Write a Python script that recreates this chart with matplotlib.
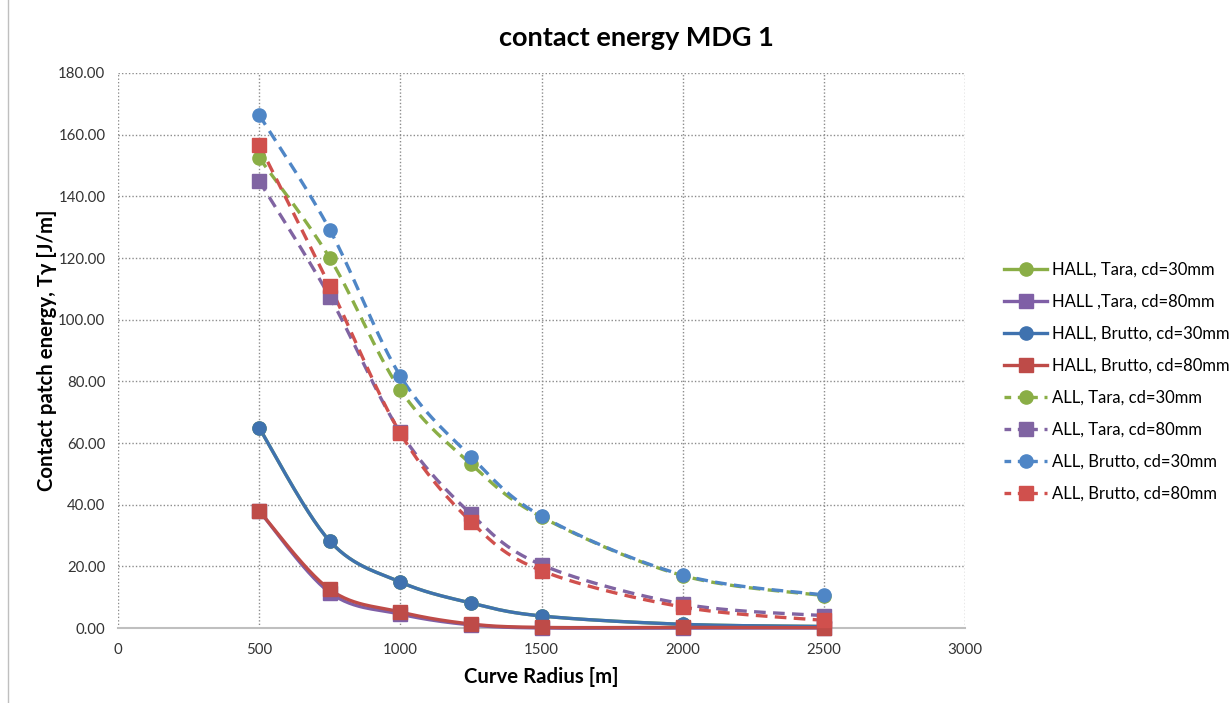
import numpy as np
import matplotlib
matplotlib.use("Agg")
import matplotlib.pyplot as plt
from matplotlib.lines import Line2D

plt.rcParams['font.family'] = ['Lato', 'DejaVu Sans']

radius = [500, 750, 1000, 1250, 1500, 2000, 2500]

hall_tara_30 = [64.9, 28.2, 14.9, 8.1, 3.9, 1.2, 0.5]
hall_tara_80 = [38.0, 11.5, 4.5, 1.0, 0.0, 0.0, 0.0]
hall_brutto_30 = [64.9, 28.2, 14.9, 8.1, 3.9, 1.2, 0.5]
hall_brutto_80 = [38.0, 12.5, 5.2, 1.3, 0.2, 0.2, 0.1]
all_tara_30 = [152.5, 120.0, 77.2, 53.2, 36.0, 17.0, 10.5]
all_tara_80 = [145.0, 107.4, 63.5, 37.0, 20.5, 7.8, 4.0]
all_brutto_30 = [166.4, 129.2, 81.7, 55.6, 36.3, 17.2, 10.7]
all_brutto_80 = [156.7, 110.9, 63.2, 34.5, 18.6, 6.8, 2.5]

labels = ["HALL, Tara, cd=30mm", "HALL ,Tara, cd=80mm", "HALL, Brutto, cd=30mm",
          "HALL, Brutto, cd=80mm", "ALL, Tara, cd=30mm", "ALL, Tara, cd=80mm",
          "ALL, Brutto, cd=30mm", "ALL, Brutto, cd=80mm"]
series = [hall_tara_30, hall_tara_80, hall_brutto_30, hall_brutto_80,
          all_tara_30, all_tara_80, all_brutto_30, all_brutto_80]
colors = ["#8AAE46", "#7F5FA6", "#3F72AF", "#BE4B48",
          "#8AAE46", "#8064A2", "#4F86C6", "#D0504D"]
markers = ["o", "s", "o", "s", "o", "s", "o", "s"]
styles = ["-", "-", "-", "-", "--", "--", "--", "--"]

xmax, ymax = 3000, 180
W, H = 847.0, 555.0  # plot area in pixels


def smooth(xs, ys, n=30):
    px = np.array(xs, float) * W / xmax
    py = np.array(ys, float) * H / ymax
    P = np.column_stack([px, py])
    out = []
    for i in range(len(P) - 1):
        p0 = P[i - 1] if i > 0 else P[i]
        p1 = P[i]
        p2 = P[i + 1]
        p3 = P[i + 2] if i + 2 < len(P) else P[i + 1]
        c1 = p1 + (p2 - p0) / 6.0
        c2 = p2 - (p3 - p1) / 6.0
        t = np.linspace(0, 1, n)[:, None]
        seg = ((1 - t) ** 3) * p1 + 3 * ((1 - t) ** 2) * t * c1 + 3 * (1 - t) * t ** 2 * c2 + t ** 3 * p2
        out.append(seg if i == 0 else seg[1:])
    C = np.vstack(out)
    return C[:, 0] * xmax / W, C[:, 1] * ymax / H


fig = plt.figure(figsize=(12.29, 7.03), dpi=100)
ax = fig.add_axes([118 / 1229, 1 - 628 / 703, (965 - 118) / 1229, (628 - 73) / 703])

handles = []
for ys, c, m, ls, lab in zip(series, colors, markers, styles, labels):
    sx, sy = smooth(radius, ys)
    ax.plot(sx, sy, color=c, lw=2.4, ls=ls, dashes=(3.5, 2.2) if ls == "--" else (None, None),
            zorder=3, clip_on=False)
    ax.plot(radius, ys, ls="none", marker=m, color=c, markersize=9.5, zorder=4, clip_on=False)
    h = Line2D([], [], color=c, lw=2.4, ls=ls, marker=m, markersize=9.5)
    if ls == "--":
        h.set_dashes((2.0, 2.0))
    handles.append(h)

ax.set_xlim(0, xmax)
ax.set_ylim(0, ymax)
ax.set_xticks(np.arange(0, 3001, 500))
ax.set_yticks(np.arange(0, 181, 20))
ax.set_yticklabels([f"{v:.2f}" for v in np.arange(0, 181, 20)])
ax.grid(True, color="#8c8c8c", ls=(0, (1, 1.5)), lw=1.0)
ax.set_axisbelow(True)
for s in ["top", "right", "left"]:
    ax.spines[s].set_visible(False)
ax.spines["bottom"].set_color("#bfbfbf")
ax.spines["bottom"].set_linewidth(1.5)
ax.tick_params(length=0, labelsize=10.8, colors="#333333")
ax.tick_params(axis="x", pad=11)
ax.tick_params(axis="y", pad=9)

ax.set_xlabel("Curve Radius [m]", fontsize=14.7, fontweight="bold", labelpad=7)
ax.set_ylabel("Contact patch energy, Tγ [J/m]", fontsize=14.7, fontweight="bold", labelpad=1)
fig.text(636 / 1229, 1 - 38 / 703, "contact energy MDG 1", ha="center", va="center",
         fontsize=19.5, fontweight="bold")

fig.legend(handles, labels, loc="upper left", bbox_to_anchor=(1004 / 1229, 1 - 262 / 703),
           frameon=False, fontsize=12.0, handlelength=2.6, labelspacing=0.955, handletextpad=0.25,
           borderaxespad=0, borderpad=0)

fig.add_artist(Line2D([8 / 1229, 8 / 1229], [0, 1], color="#bfbfbf", lw=1, transform=fig.transFigure))

fig.savefig("out.png", dpi=100)
